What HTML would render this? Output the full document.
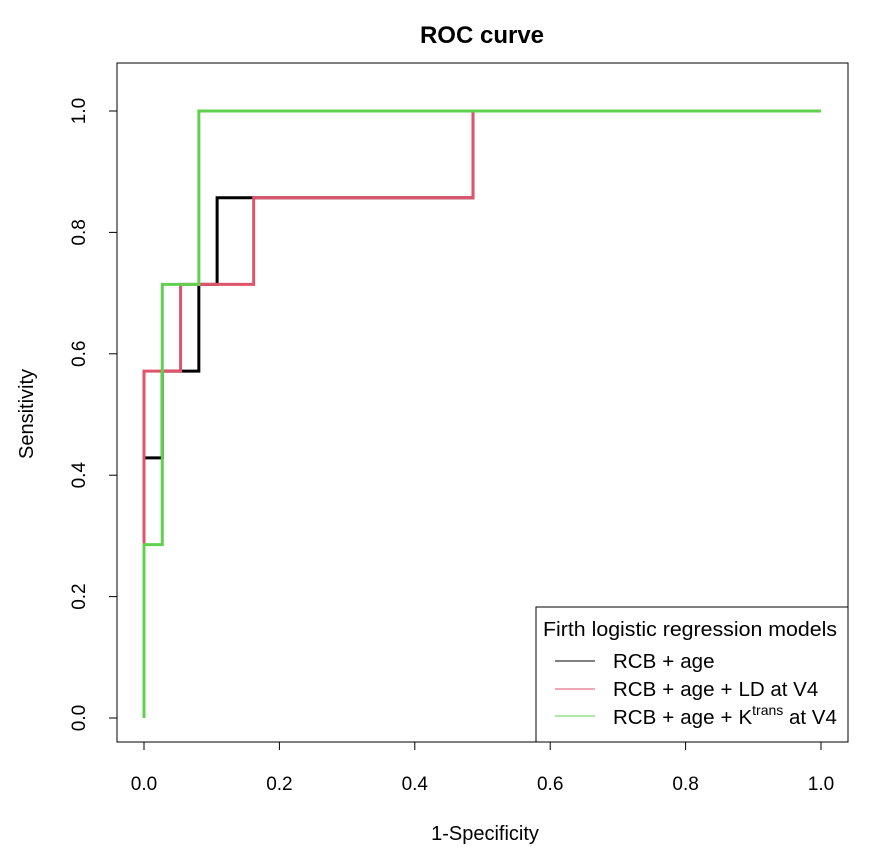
<!DOCTYPE html>
<html><head><meta charset="utf-8"><style>
body{margin:0;background:#fff}
svg text{font-family:"Liberation Sans",Arial,sans-serif;fill:#000}
</style></head><body>
<svg width="894" height="863" xmlns="http://www.w3.org/2000/svg">
<text x="482" y="43" text-anchor="middle" font-size="24" font-weight="bold">ROC curve</text>
<rect x="117" y="63" width="731" height="679" fill="none" stroke="#000" stroke-width="1"/>
<g id="axes"></g>
<g id="series"></g>
<text x="485" y="840" text-anchor="middle" font-size="20">1-Specificity</text>
<text transform="translate(33,414) rotate(-90)" text-anchor="middle" font-size="20">Sensitivity</text>
<g>
<rect x="536" y="607" width="312" height="135" fill="#fff" stroke="#000" stroke-width="1"/>
<text x="543" y="636" font-size="20.5" textLength="294" lengthAdjust="spacingAndGlyphs">Firth logistic regression models</text>
<line x1="555" y1="661" x2="595" y2="661" stroke="#000" stroke-width="1"/>
<text x="613" y="668" font-size="20.5">RCB<tspan dx="6">+</tspan><tspan dx="6">age</tspan></text>
<line x1="555" y1="689" x2="595" y2="689" stroke="#DF536B" stroke-width="1"/>
<text x="613" y="696" font-size="20.5">RCB<tspan dx="6">+</tspan><tspan dx="6">age</tspan><tspan dx="6">+</tspan><tspan dx="6">LD at V4</tspan></text>
<line x1="555" y1="716" x2="595" y2="716" stroke="#61D04F" stroke-width="1"/>
<text x="613" y="724" font-size="20.5">RCB<tspan dx="6">+</tspan><tspan dx="6">age</tspan><tspan dx="6">+</tspan><tspan dx="6">K</tspan><tspan font-size="14" dy="-9">trans</tspan><tspan dy="9"> at V4</tspan></text>
</g>
</svg>
<script>
const xTicks=[0,0.2,0.4,0.6,0.8,1.0];
const xTickLabels=["0.0","0.2","0.4","0.6","0.8","1.0"];
const yTicks=[0,0.2,0.4,0.6,0.8,1.0];
const yTickLabels=["0.0","0.2","0.4","0.6","0.8","1.0"];
const blackX=[0,0,0.027,0.027,0.081,0.081,0.108,0.108,0.486,0.486,1];
const blackY=[0,0.4286,0.4286,0.5714,0.5714,0.7143,0.7143,0.857,0.857,1,1];
const redX=[0,0,0.054,0.054,0.162,0.162,0.486,0.486,1];
const redY=[0,0.5714,0.5714,0.7143,0.7143,0.857,0.857,1,1];
const greenX=[0,0,0.027,0.027,0.081,0.081,1];
const greenY=[0,0.2857,0.2857,0.7143,0.7143,1,1];
const NS="http://www.w3.org/2000/svg";
const sx=v=>144+v*677, sy=v=>718-v*607;
const axes=document.getElementById('axes');
function mk(t,a){const e=document.createElementNS(NS,t);for(const k in a)e.setAttribute(k,a[k]);return e;}
xTicks.forEach((v,i)=>{
 const l=mk('line',{x1:sx(v),x2:sx(v),y1:742,y2:750,stroke:'#000'});
 
 
 axes.appendChild(l);
 const t=mk('text',{x:sx(v),y:790,'text-anchor':'middle','font-size':'19'});
 
 
 t.textContent=xTickLabels[i];axes.appendChild(t);
});
yTicks.forEach((v,i)=>{
 const l=mk('line',{x1:109,x2:117,y1:sy(v),y2:sy(v),stroke:'#000'});
 
 
 axes.appendChild(l);
 const t=mk('text',{transform:`translate(85,${sy(v)}) rotate(-90)`,'text-anchor':'middle','font-size':'19'});
 
 
 t.textContent=yTickLabels[i];axes.appendChild(t);
});
const ser=document.getElementById('series');
function draw(xs,ys,c,name){
 const p=xs.map((x,i)=>sx(x)+','+sy(ys[i])).join(' ');
 const e=mk('polyline',{points:p,fill:'none',stroke:c,'stroke-width':'3'});
 
 
 ser.appendChild(e);
}
draw(blackX,blackY,'#000','roc-rcb-age');
draw(redX,redY,'#DF536B','roc-rcb-age-ld');
draw(greenX,greenY,'#61D04F','roc-rcb-age-ktrans');
</script>
</body></html>
